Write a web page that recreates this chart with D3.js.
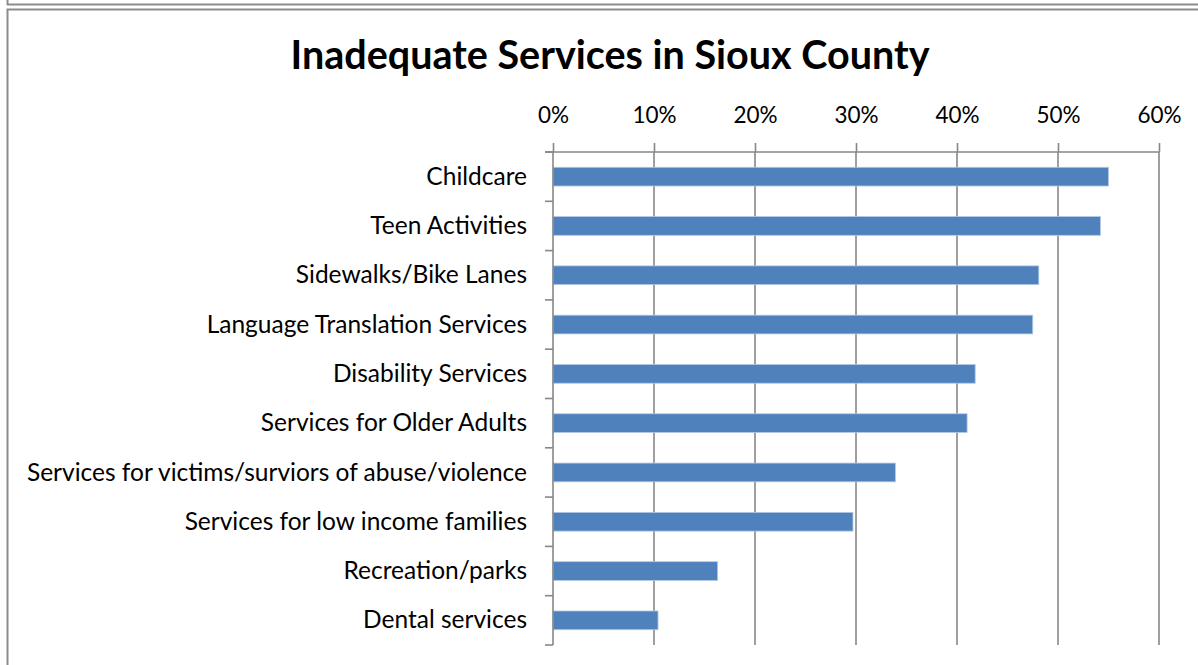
<!DOCTYPE html>
<html>
<head>
<meta charset="utf-8">
<script src="https://cdn.jsdelivr.net/npm/d3@7"></script>
<style>
  body { margin: 0; background: #fff; }
  svg { display: block; font-family: Lato, "Open Sans", sans-serif; }
</style>
</head>
<body>
<svg width="1198" height="665"></svg>
<script>
var categories = [
  "Childcare",
  "Teen Activities",
  "Sidewalks/Bike Lanes",
  "Language Translation Services",
  "Disability Services",
  "Services for Older Adults",
  "Services for victims/surviors of abuse/violence",
  "Services for low income families",
  "Recreation/parks",
  "Dental services"
];
var values = [0.55, 0.542, 0.481, 0.475, 0.418, 0.41, 0.339, 0.297, 0.163, 0.104];
var tickValues = [0, 0.1, 0.2, 0.3, 0.4, 0.5, 0.6];
var title = "Inadequate Services in Sioux County";

var svg = d3.select("svg");
var gridColor = "#878787";

// frame: bottom of previous box + top/left of chart box
svg.append("line")
  .attr("x1", 7).attr("x2", 1198).attr("y1", 4.5).attr("y2", 4.5)
  .attr("stroke", "#8c8c8c").attr("stroke-width", 2);
svg.append("line")
  .attr("x1", 7.5).attr("x2", 7.5).attr("y1", 0).attr("y2", 5)
  .attr("stroke", "#8c8c8c").attr("stroke-width", 2);
svg.append("path")
  .attr("d", "M7.5,665V9.5H1198")
  .attr("fill", "none")
  .attr("stroke", "#8c8c8c").attr("stroke-width", 2);

svg.append("text")
  .attr("x", 610).attr("y", 69)
  .attr("text-anchor", "middle")
  .attr("font-weight", "bold")
  .attr("font-size", 39.5)
  .attr("fill", "#000")
  .text(title);

var plotTop = 152, plotBottom = 645;
var x = d3.scaleLinear().domain([0, 0.6]).range([553, 1159]);
var y = d3.scaleBand().domain(categories).range([plotTop, plotBottom])
  .paddingInner(0.62).paddingOuter(0.31);
var yEdge = d3.scaleBand().domain(categories).range([plotTop, plotBottom]);

// vertical gridlines
svg.append("g").selectAll("line")
  .data(tickValues.slice(1)).enter()
  .append("line")
  .attr("x1", function(d) { return x(d); })
  .attr("x2", function(d) { return x(d); })
  .attr("y1", plotTop).attr("y2", plotBottom)
  .attr("stroke", gridColor).attr("stroke-width", 1.6);

// top axis
var xAxis = d3.axisTop(x)
  .tickValues(tickValues)
  .tickFormat(d3.format(".0%"))
  .tickSizeInner(9).tickSizeOuter(0).tickPadding(20);
var axisXG = svg.append("g")
  .attr("transform", "translate(0," + plotTop + ")")
  .call(xAxis);
axisXG.select(".domain").remove();
axisXG.selectAll(".tick line").attr("stroke", gridColor).attr("stroke-width", 1.6);
axisXG.selectAll(".tick text")
  .attr("font-family", "Lato, sans-serif")
  .attr("font-size", 22.5).attr("fill", "#000");
axisXG.append("line")
  .attr("x1", x(0) - 8).attr("x2", x(0.6)).attr("y1", 0).attr("y2", 0)
  .attr("stroke", gridColor).attr("stroke-width", 1.6);

// bars
svg.append("g").selectAll("rect")
  .data(values).enter()
  .append("rect")
  .attr("x", x(0))
  .attr("y", function(d, i) { return y(categories[i]); })
  .attr("width", function(d) { return x(d) - x(0); })
  .attr("height", y.bandwidth())
  .attr("fill", "#4f81bd")
  .attr("stroke", "#b3c9e3")
  .attr("stroke-width", 0.8);

// category axis
var axisYG = svg.append("g");
axisYG.append("line")
  .attr("x1", x(0)).attr("x2", x(0)).attr("y1", plotTop).attr("y2", plotBottom)
  .attr("stroke", gridColor).attr("stroke-width", 1.6);
axisYG.selectAll(".edge")
  .data(categories.concat(["end"])).enter()
  .append("line")
  .attr("class", "edge")
  .attr("x1", x(0) - 8).attr("x2", x(0))
  .attr("y1", function(d, i) { return plotTop + i * yEdge.step(); })
  .attr("y2", function(d, i) { return plotTop + i * yEdge.step(); })
  .attr("stroke", gridColor).attr("stroke-width", 1.6);
axisYG.selectAll("text")
  .data(categories).enter()
  .append("text")
  .attr("x", 527)
  .attr("y", function(d) { return yEdge(d) + yEdge.bandwidth() / 2; })
  .attr("dy", "0.33em")
  .attr("text-anchor", "end")
  .attr("font-size", 24.5)
  .attr("fill", "#000")
  .text(function(d) { return d; });
</script>
</body>
</html>
